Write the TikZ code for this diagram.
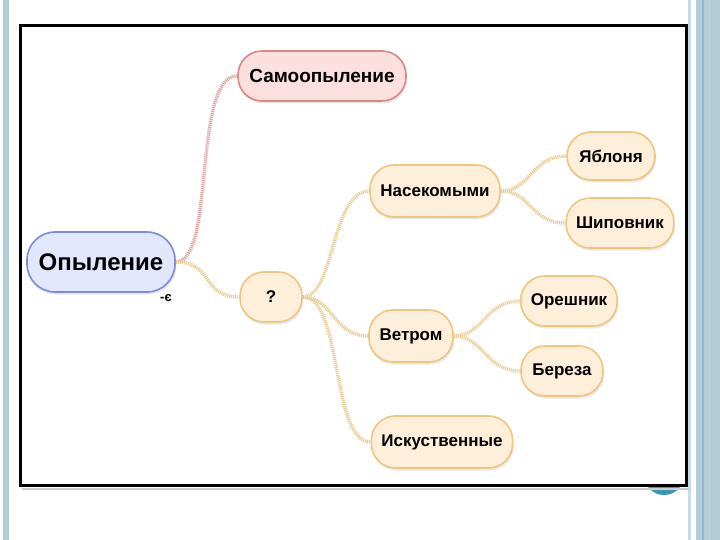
\documentclass[tikz,border=0pt]{standalone}
\usepackage{fontspec}
\setmainfont{Liberation Sans}
\usetikzlibrary{shadows}

\definecolor{slidebar}{HTML}{B2CDD8}
\definecolor{slideline}{HTML}{8FB8C8}
\definecolor{dotteal}{HTML}{3A97B5}
\definecolor{rootfill}{HTML}{E3E7FB}
\definecolor{rootdraw}{HTML}{7A8CDD}
\definecolor{selffill}{HTML}{FCDFDF}
\definecolor{selfdraw}{HTML}{D98888}
\definecolor{leaffill}{HTML}{FDEFD9}
\definecolor{leafdraw}{HTML}{EFC57F}
\definecolor{ropeorange}{HTML}{E8C98E}
\definecolor{ropepink}{HTML}{DE9E9E}

\begin{document}
\begin{tikzpicture}[x=1pt, y=-1pt,
        pill/.style={rectangle, rounded corners=24pt, line width=1.6pt, minimum height=50pt, inner xsep=10pt, text centered, font=\bfseries\fontsize{17}{20}\selectfont, drop shadow={opacity=0.18, shadow xshift=1pt, shadow yshift=-2.5pt}},
        leaf/.style={pill, draw=leafdraw, fill=leaffill},
        rope/.style={draw=ropeorange, line width=3.4pt, dash pattern=on 1.1pt off 0.9pt},
        pinkrope/.style={rope, draw=ropepink}
    ]
    \useasboundingbox (0,0) rectangle (720,540);

    % Slide decoration
    \fill[slidebar] (3,0) rectangle (9,540);
    \fill[slidebar!70] (688,0) rectangle (691,540);
    \fill[slidebar] (696,0) rectangle (720,540);
    \fill[slideline] (702,0) rectangle (703.5,540);
    \fill[slideline!60] (709,0) rectangle (710,540);
    \fill[dotteal] (664,475) circle (20);
    \fill[black!20] (22,488) rectangle (689,490);
    \draw[line width=3pt, fill=white] (20,26) rectangle (686,485);

    % Nodes
    \node[pill, draw=rootdraw, fill=rootfill, minimum width=148pt, minimum height=60pt, rounded corners=28pt, font=\bfseries\fontsize{24}{28}\selectfont] (pollination) at (101,262) {Опыление};
    \node[pill, draw=selfdraw, fill=selffill, minimum width=168pt, minimum height=50pt, font=\bfseries\fontsize{19}{22}\selectfont] (self) at (322,76) {Самоопыление};
    \node[leaf, minimum width=62pt] (how) at (271,297) {?};
    \node[leaf, minimum width=130pt, minimum height=52pt] (insects) at (435,191) {Насекомыми};
    \node[leaf, minimum width=88pt, minimum height=48pt] (apple) at (611,156) {Яблоня};
    \node[leaf, minimum width=106pt] (rosehip) at (620,223) {Шиповник};
    \node[leaf, minimum width=84pt, minimum height=52pt] (wind) at (411,336) {Ветром};
    \node[leaf, minimum width=96pt] (hazel) at (569,301) {Орешник};
    \node[leaf, minimum width=82pt] (birch) at (562,371) {Береза};
    \node[leaf, minimum width=140pt, minimum height=52pt] (artificial) at (442,442) {Искуственные};
    \node[font=\bfseries\fontsize{13}{14}\selectfont, inner sep=0pt] (fold) at (166,298) {-є};

    % Connectors
    \draw[pinkrope] (pollination.east) .. controls +(40,0) and +(-45,0) .. (self.west);
    \draw[rope] (pollination.east) .. controls +(38,0) and +(-38,0) .. (how.west);
    \draw[rope] (how.east) .. controls +(32,0) and +(-38,0) .. (insects.west);
    \draw[rope] (how.east) .. controls +(30,0) and +(-35,0) .. (wind.west);
    \draw[rope] (how.east) .. controls +(40,0) and +(-40,0) .. (artificial.west);
    \draw[rope] (insects.east) .. controls +(30,0) and +(-35,0) .. (apple.west);
    \draw[rope] (insects.east) .. controls +(30,0) and +(-35,0) .. (rosehip.west);
    \draw[rope] (wind.east) .. controls +(30,0) and +(-35,0) .. (hazel.west);
    \draw[rope] (wind.east) .. controls +(30,0) and +(-35,0) .. (birch.west);

\end{tikzpicture}
\end{document}
